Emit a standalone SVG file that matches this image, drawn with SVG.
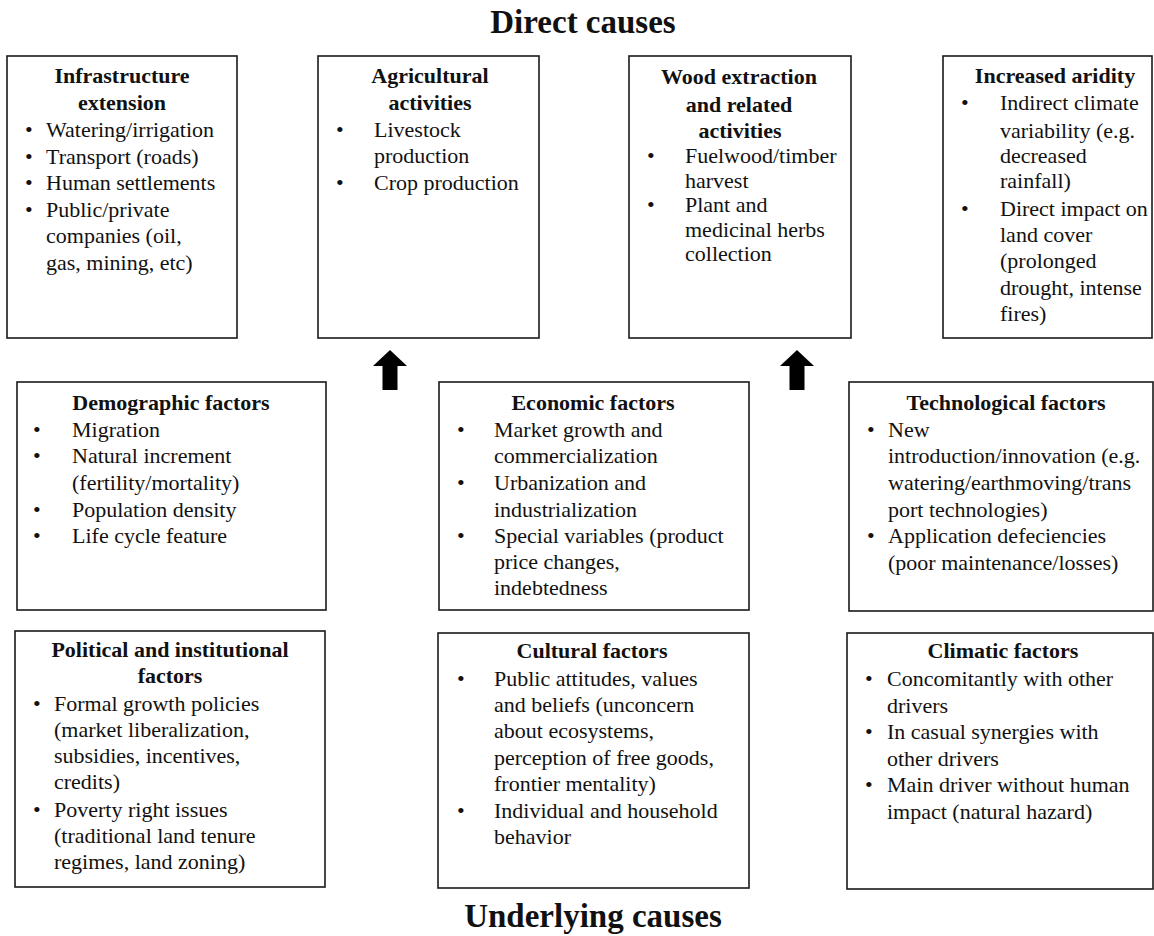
<svg xmlns="http://www.w3.org/2000/svg" xmlns:xlink="http://www.w3.org/1999/xlink" width="1154" height="936" viewBox="0 0 1154 936">
<style>
.box{fill:#fff;stroke:#1a1a1a;stroke-width:1.6}
text{font-family:"Liberation Serif","Times New Roman",serif;fill:#111;font-size:22px}
.t{font-weight:bold;text-anchor:middle}
.h{font-weight:bold;text-anchor:middle;font-size:33px}
.arrow{fill:#000}
</style>
<defs>
<path id="up" d="M0,0 L17,16 L7.5,16 L7.5,40 L-7.5,40 L-7.5,16 L-17,16 Z"/>
</defs>
<rect width="1154" height="936" fill="#fff"/>
<text class="h" x="583" y="33">Direct causes</text>
<text class="h" x="593" y="927">Underlying causes</text>

<g id="infrastructure">
<rect class="box" x="7" y="56" width="230" height="282"/>
<text class="t" x="122" y="83">Infrastructure</text>
<text class="t" x="122" y="110">extension</text>
<text x="25" y="137">•</text><text x="46" y="137">Watering/irrigation</text>
<text x="25" y="164">•</text><text x="46" y="164">Transport (roads)</text>
<text x="25" y="190">•</text><text x="46" y="190">Human settlements</text>
<text x="25" y="217">•</text><text x="46" y="217">Public/private</text>
<text x="46" y="243">companies (oil,</text>
<text x="46" y="270">gas, mining, etc)</text>
</g>

<g id="agricultural">
<rect class="box" x="318" y="56" width="221" height="282"/>
<text class="t" x="430" y="83">Agricultural</text>
<text class="t" x="430" y="110">activities</text>
<text x="336" y="137">•</text><text x="374" y="137">Livestock</text>
<text x="374" y="163">production</text>
<text x="336" y="190">•</text><text x="374" y="190">Crop production</text>
</g>

<g id="wood">
<rect class="box" x="629" y="56" width="222" height="282"/>
<text class="t" x="739" y="84">Wood  extraction</text>
<text class="t" x="739" y="112">and related</text>
<text class="t" x="740" y="138">activities</text>
<text x="647" y="163">•</text><text x="685" y="163">Fuelwood/timber</text>
<text x="685" y="188">harvest</text>
<text x="647" y="212">•</text><text x="685" y="212">Plant and</text>
<text x="685" y="237">medicinal herbs</text>
<text x="685" y="261">collection</text>
</g>

<g id="aridity">
<rect class="box" x="943" y="56" width="209" height="282"/>
<text class="t" x="1055" y="83">Increased aridity</text>
<text x="961" y="110">•</text><text x="1000" y="110">Indirect climate</text>
<text x="1000" y="138">variability  (e.g.</text>
<text x="1000" y="163">decreased</text>
<text x="1000" y="188">rainfall)</text>
<text x="961" y="216">•</text><text x="1000" y="216">Direct impact on</text>
<text x="1000" y="242">land cover</text>
<text x="1000" y="268">(prolonged</text>
<text x="1000" y="295">drought, intense</text>
<text x="1000" y="321">fires)</text>
</g>

<g id="connectors">
<use class="arrow" xlink:href="#up" href="#up" x="390" y="350"/>
<use class="arrow" xlink:href="#up" href="#up" x="797" y="350"/>
</g>

<g id="demographic">
<rect class="box" x="17" y="382" width="309" height="228"/>
<text class="t" x="171" y="410">Demographic factors</text>
<text x="33" y="437">•</text><text x="72" y="437">Migration</text>
<text x="33" y="463">•</text><text x="72" y="463">Natural increment</text>
<text x="72" y="490">(fertility/mortality)</text>
<text x="33" y="517">•</text><text x="72" y="517">Population density</text>
<text x="33" y="543">•</text><text x="72" y="543">Life cycle feature</text>
</g>

<g id="economic">
<rect class="box" x="439" y="382" width="310" height="228"/>
<text class="t" x="593" y="410">Economic factors</text>
<text x="457" y="437">•</text><text x="494" y="437">Market growth and</text>
<text x="494" y="463">commercialization</text>
<text x="457" y="490">•</text><text x="494" y="490">Urbanization and</text>
<text x="494" y="517">industrialization</text>
<text x="457" y="543">•</text><text x="494" y="543">Special variables (product</text>
<text x="494" y="569">price changes,</text>
<text x="494" y="595">indebtedness</text>
</g>

<g id="technological">
<rect class="box" x="849" y="382" width="304" height="229"/>
<text class="t" x="1006" y="410">Technological factors</text>
<text x="867" y="437">•</text><text x="888" y="437">New</text>
<text x="888" y="463">introduction/innovation (e.g.</text>
<text x="888" y="490">watering/earthmoving/trans</text>
<text x="888" y="517">port technologies)</text>
<text x="867" y="543">•</text><text x="888" y="543">Application defeciencies</text>
<text x="888" y="570">(poor maintenance/losses)</text>
</g>

<g id="political">
<rect class="box" x="15" y="631" width="310" height="256"/>
<text class="t" x="170" y="657">Political and institutional</text>
<text class="t" x="170" y="683">factors</text>
<text x="33" y="711">•</text><text x="54" y="711">Formal growth policies</text>
<text x="54" y="737">(market liberalization,</text>
<text x="54" y="763">subsidies, incentives,</text>
<text x="54" y="789">credits)</text>
<text x="33" y="817">•</text><text x="54" y="817">Poverty right issues</text>
<text x="54" y="843">(traditional  land tenure</text>
<text x="54" y="869">regimes, land zoning)</text>
</g>

<g id="cultural">
<rect class="box" x="438" y="633" width="311" height="255"/>
<text class="t" x="592" y="658">Cultural factors</text>
<text x="457" y="686">•</text><text x="494" y="686">Public attitudes, values</text>
<text x="494" y="712">and beliefs (unconcern</text>
<text x="494" y="738">about ecosystems,</text>
<text x="494" y="765">perception of free goods,</text>
<text x="494" y="791">frontier mentality)</text>
<text x="457" y="818">•</text><text x="494" y="818">Individual and household</text>
<text x="494" y="844">behavior</text>
</g>

<g id="climatic">
<rect class="box" x="847" y="633" width="306" height="256"/>
<text class="t" x="1003" y="658">Climatic factors</text>
<text x="865" y="686">•</text><text x="887" y="686">Concomitantly with other</text>
<text x="887" y="713">drivers</text>
<text x="865" y="739">•</text><text x="887" y="739">In casual synergies with</text>
<text x="887" y="766">other drivers</text>
<text x="865" y="792">•</text><text x="887" y="792">Main driver without human</text>
<text x="887" y="819">impact (natural hazard)</text>
</g>
</svg>
